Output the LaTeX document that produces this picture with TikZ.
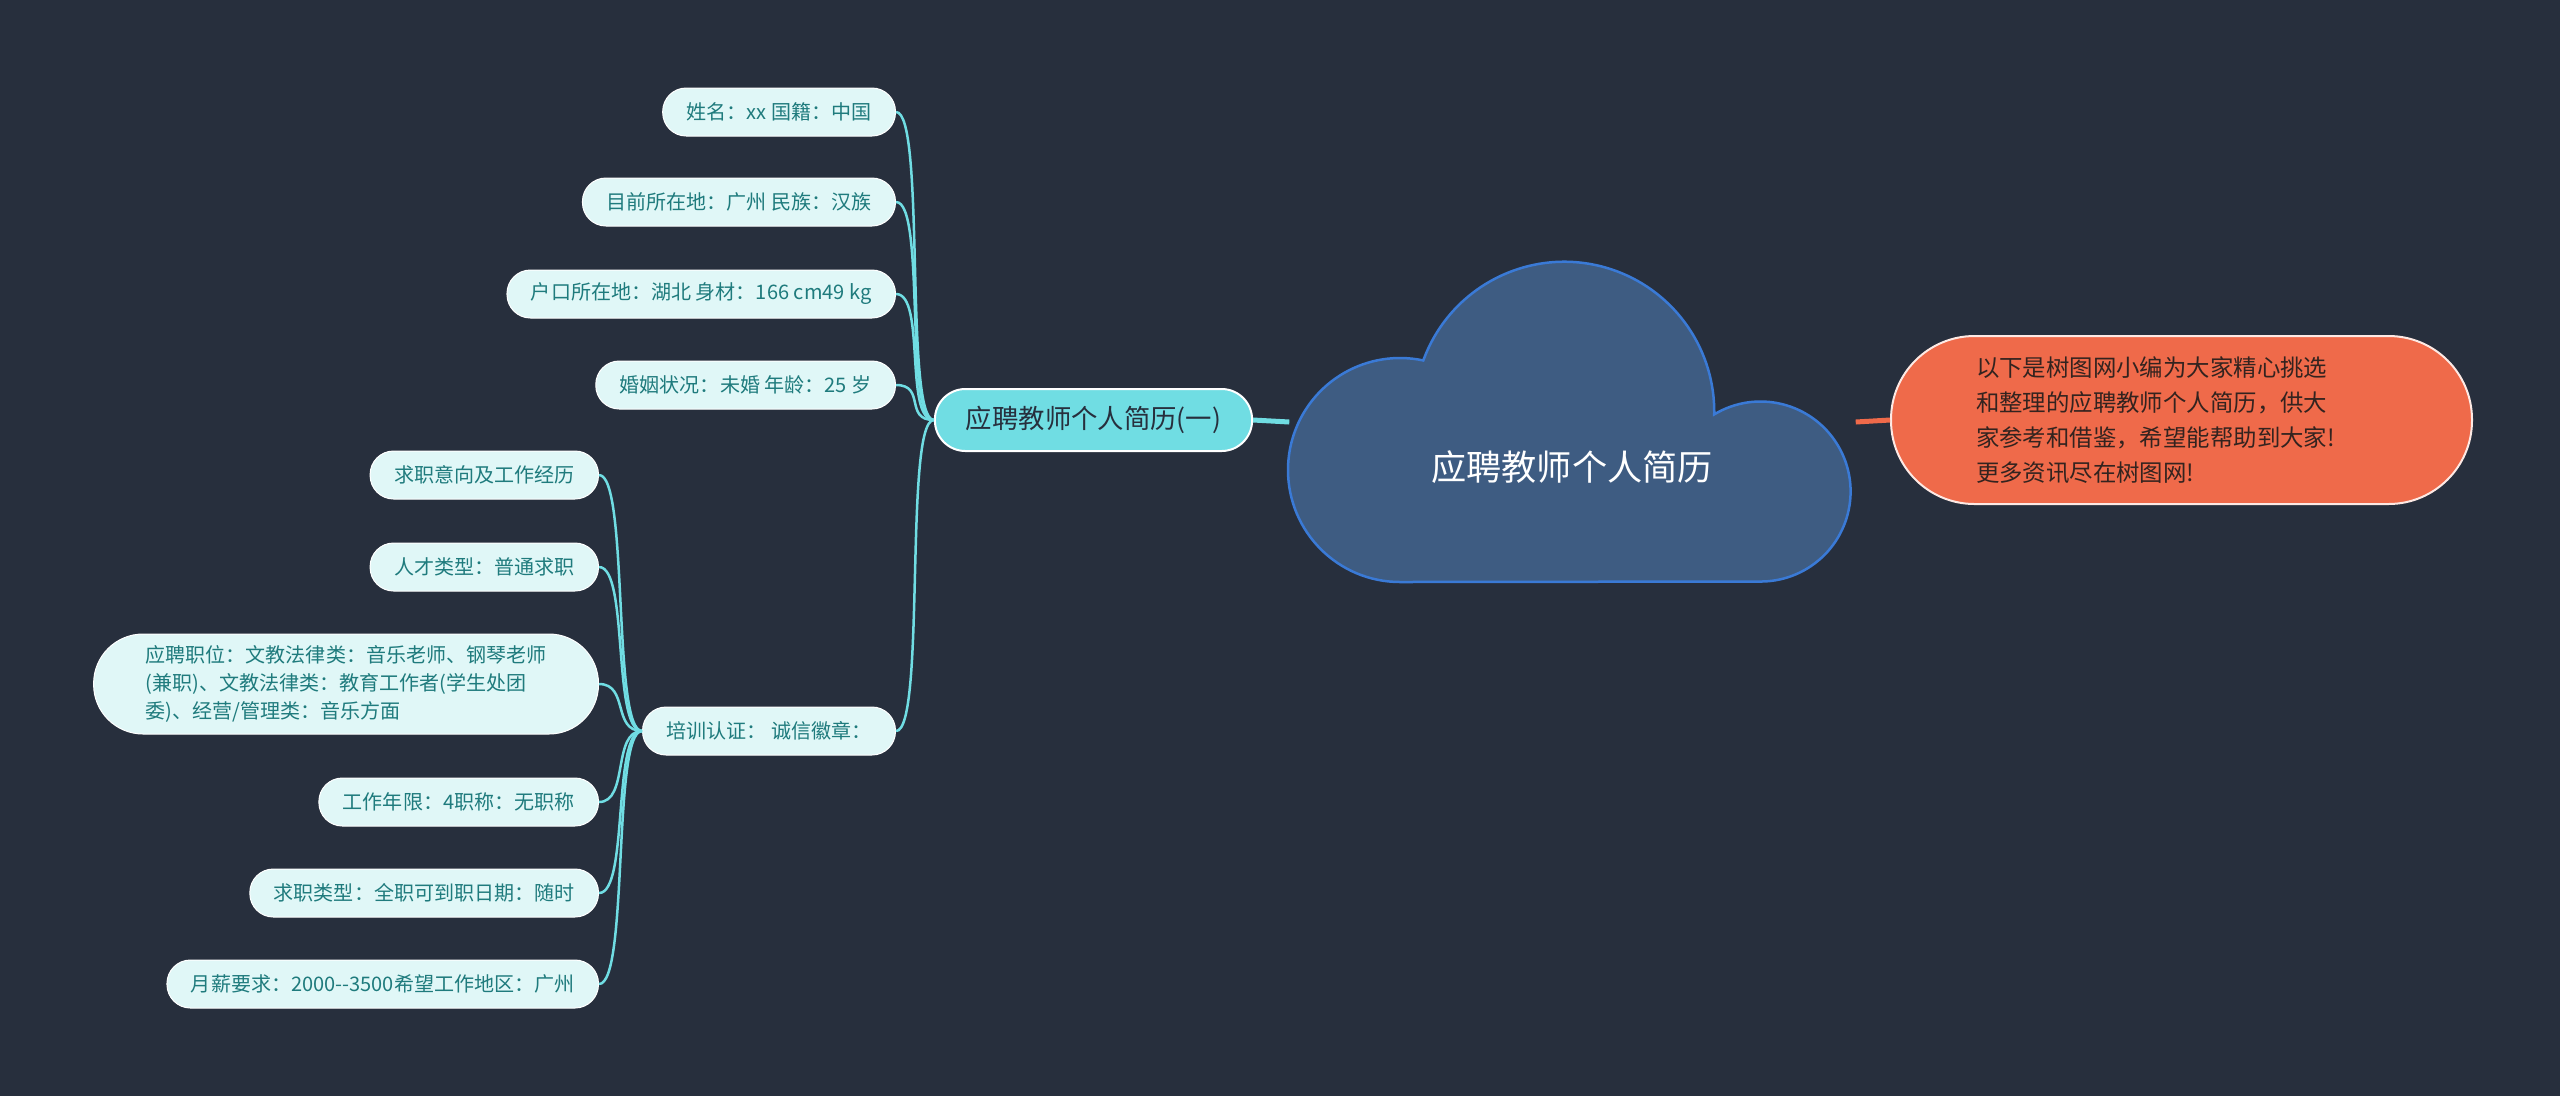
\documentclass[tikz,border=0pt]{standalone}
\usepackage{fontspec}
\setmainfont{Noto Sans CJK SC}
\definecolor{night}{HTML}{272F3D}
\definecolor{cloud}{HTML}{3E5C82}
\definecolor{cloudrim}{HTML}{3A7AD6}
\definecolor{aqua}{HTML}{70DDE3}
\definecolor{pale}{HTML}{E0F7F7}
\definecolor{ink}{HTML}{1F7B7D}
\definecolor{coral}{HTML}{EF6A4A}
\definecolor{bark}{HTML}{33231F}
\newdimen\pu \pu=0.01cm
\tikzset{leaf/.style={fill=pale,draw=white,line width=1\pu,text=ink,minimum height=48\pu,inner xsep=24\pu,inner ysep=0pt,rounded corners=23.5\pu,font=\fontsize{5.7pt}{7.9pt}\selectfont,anchor=east},
  link/.style={aqua,line width=2.5\pu}}

\begin{document}
\begin{tikzpicture}[x=0.01cm,y=-0.01cm]
\useasboundingbox (0,0) rectangle (2560,1096);\fill[night] (0,0) rectangle (2560,1096);
% cloud
\filldraw[fill=cloud,draw=cloudrim,line width=2.5\pu] (1400,582) arc (90:282:112) arc (200:361:150) arc (239:450:90) -- cycle;
\node[minimum width=565\pu,minimum height=322\pu] (root) at (1572.5,422) {};
\node[text=white,font=\fontsize{10pt}{12pt}\selectfont] (title) at (1572,467) {应聘教师个人简历};
\node[fill=aqua,draw=white,line width=2\pu,text=night,font=\fontsize{7.5pt}{9pt}\selectfont,minimum height=62\pu,inner xsep=31\pu,inner ysep=0pt,rounded corners=30.5\pu] (sub) at (1093.5,420) {应聘教师个人简历(一)};
\node[fill=coral,draw=white!85!coral,line width=2\pu,text=bark,font=\fontsize{6.66pt}{9.9pt}\selectfont,minimum height=168\pu,text width=411\pu,inner xsep=85\pu,inner ysep=0pt,rounded corners=83.5\pu,align=left] (note) at (2181.5,420)
  {以下是树图网小编为大家精心挑选\\和整理的应聘教师个人简历，供大\\家参考和借鉴，希望能帮助到大家!\\更多资讯尽在树图网!};
% left branch
\node[leaf] (name) at (896,112) {姓名：xx 国籍：中国};
\node[leaf] (place) at (896,202) {目前所在地：广州 民族：汉族};
\node[leaf] (hukou) at (896,294) {户口所在地：湖北 身材：166 cm49 kg};
\node[leaf] (marry) at (896,385) {婚姻状况：未婚 年龄：25 岁};
\node[leaf] (cert) at (896,731) {培训认证： 诚信徽章：};
\node[leaf] (intent) at (599,475) {求职意向及工作经历};
\node[leaf] (talent) at (599,567) {人才类型：普通求职};
\node[leaf,minimum height=100\pu,inner xsep=52\pu,rounded corners=49.5\pu,align=left] (post) at (599,684) {应聘职位：文教法律类：音乐老师、钢琴老师\\(兼职)、文教法律类：教育工作者(学生处团\\委)、经营/管理类：音乐方面};
\node[leaf] (years) at (599,802) {工作年限：4职称：无职称};
\node[leaf] (kind) at (599,893) {求职类型：全职可到职日期：随时};
\node[leaf] (pay) at (599,984) {月薪要求：2000-\kern0pt-3500希望工作地区：广州};
\foreach \nd in {name,place,hukou,marry,cert} \draw[link] (sub.west) .. controls +(-30,0) and +(30,0) .. (\nd.east);
\foreach \nd in {intent,talent,post,years,kind,pay} \draw[link] (cert.west) .. controls +(-30,0) and +(30,0) .. (\nd.east);
\draw[aqua,line width=5\pu] (root.west) -- (sub.east);
\draw[coral,line width=5\pu] (root.east) -- (note.west);
\end{tikzpicture}
\end{document}
